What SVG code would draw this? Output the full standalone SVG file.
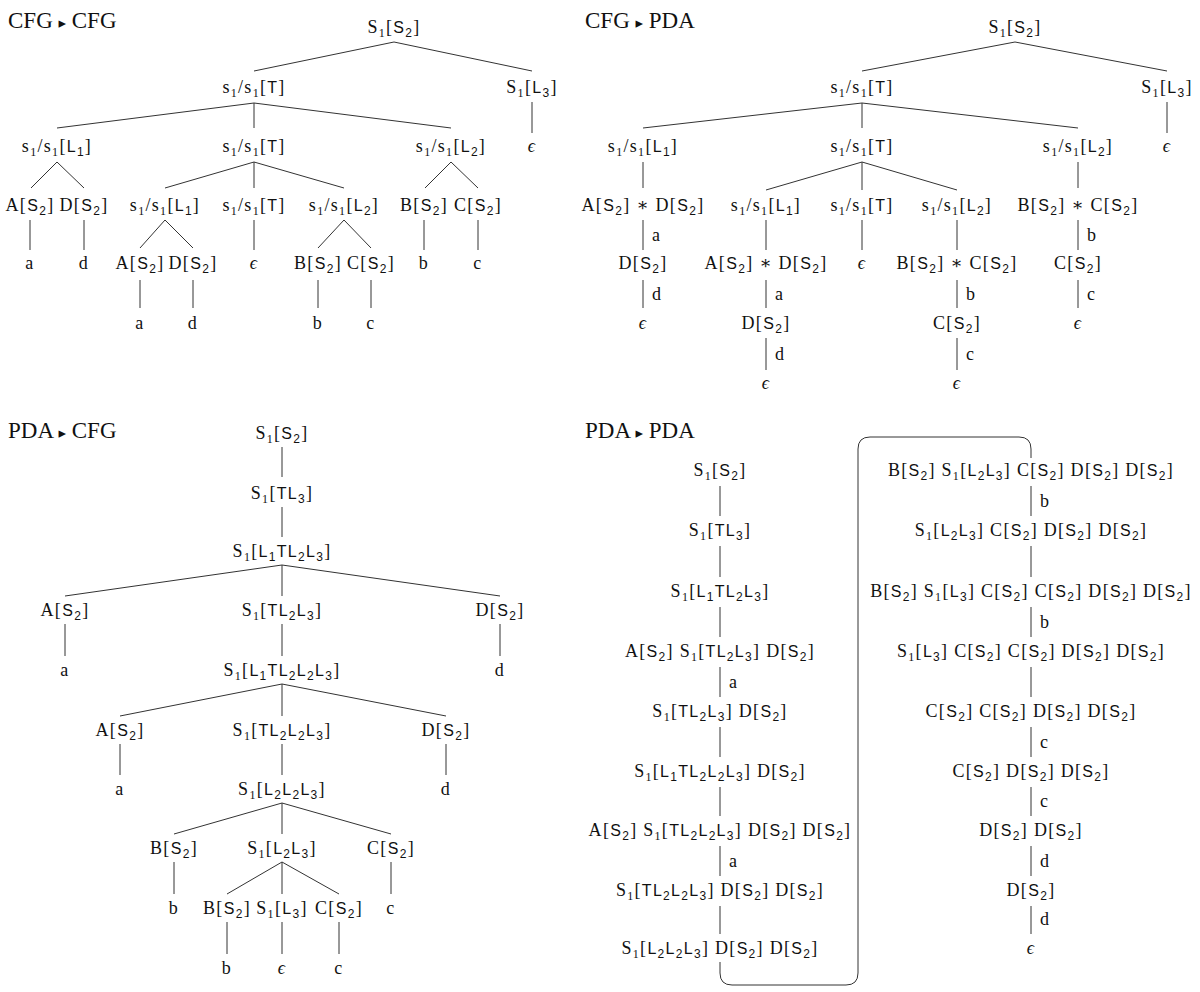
<svg xmlns="http://www.w3.org/2000/svg" width="1200" height="992" viewBox="0 0 1200 992">
<style>
text{font-family:"Liberation Serif","DejaVu Serif",serif;font-size:18px;text-anchor:middle;fill:#111;letter-spacing:1.3px}
.f{font-family:"Liberation Sans","DejaVu Sans",sans-serif;font-size:16px}
.u{font-size:12px;baseline-shift:-4px}
.h{font-size:23px;text-anchor:start;letter-spacing:0}
.h tspan{font-size:15px;font-family:"DejaVu Sans",sans-serif}
.l{text-anchor:start}
.e{font-style:italic}
#edges line,#edges path{stroke:#333;stroke-width:1;fill:none}
</style>
<rect width="1200" height="992" fill="#fff"/>
<text class="h" x="8" y="28">CFG <tspan>▸</tspan> CFG</text>
<text class="h" x="585" y="28">CFG <tspan>▸</tspan> PDA</text>
<text class="h" x="8" y="438">PDA <tspan>▸</tspan> CFG</text>
<text class="h" x="585" y="438">PDA <tspan>▸</tspan> PDA</text>
<g id="edges">
<line x1="394" y1="42" x2="254" y2="71"/><line x1="394" y1="42" x2="532" y2="71"/>
<line x1="532" y1="102" x2="532" y2="133"/>
<line x1="254" y1="103" x2="57" y2="128"/><line x1="254" y1="103" x2="254" y2="128"/><line x1="254" y1="103" x2="451" y2="128"/>
<line x1="57" y1="162" x2="31" y2="188"/><line x1="57" y1="162" x2="84" y2="188"/>
<line x1="254" y1="162" x2="165" y2="188"/><line x1="254" y1="162" x2="254" y2="188"/><line x1="254" y1="162" x2="344" y2="188"/>
<line x1="451" y1="162" x2="425" y2="188"/><line x1="451" y1="162" x2="478" y2="188"/>
<line x1="30" y1="220" x2="30" y2="250"/><line x1="84" y1="220" x2="84" y2="250"/><line x1="254" y1="220" x2="254" y2="250"/><line x1="424" y1="220" x2="424" y2="250"/><line x1="478" y1="220" x2="478" y2="250"/>
<line x1="165" y1="220" x2="140" y2="248"/><line x1="165" y1="220" x2="193" y2="248"/><line x1="344" y1="220" x2="318" y2="248"/><line x1="344" y1="220" x2="371" y2="248"/>
<line x1="140" y1="280" x2="140" y2="308"/><line x1="193" y1="280" x2="193" y2="308"/><line x1="318" y1="280" x2="318" y2="308"/><line x1="371" y1="280" x2="371" y2="308"/>
<line x1="1015" y1="42" x2="862" y2="71"/><line x1="1015" y1="42" x2="1167" y2="71"/>
<line x1="1167" y1="102" x2="1167" y2="133"/>
<line x1="862" y1="103" x2="643" y2="128"/><line x1="862" y1="103" x2="862" y2="128"/><line x1="862" y1="103" x2="1078" y2="128"/>
<line x1="643" y1="162" x2="643" y2="188"/><line x1="1078" y1="162" x2="1078" y2="188"/>
<line x1="862" y1="162" x2="766" y2="190"/><line x1="862" y1="162" x2="862" y2="190"/><line x1="862" y1="162" x2="957" y2="190"/>
<line x1="643" y1="220" x2="643" y2="250"/><line x1="766" y1="220" x2="766" y2="250"/><line x1="862" y1="220" x2="862" y2="250"/><line x1="957" y1="220" x2="957" y2="250"/><line x1="1078" y1="220" x2="1078" y2="250"/>
<line x1="643" y1="280" x2="643" y2="308"/><line x1="766" y1="280" x2="766" y2="308"/><line x1="957" y1="280" x2="957" y2="308"/><line x1="1078" y1="280" x2="1078" y2="308"/>
<line x1="766" y1="338" x2="766" y2="370"/><line x1="957" y1="338" x2="957" y2="370"/>
<line x1="282" y1="447" x2="282" y2="477"/><line x1="282" y1="507" x2="282" y2="537"/>
<line x1="282" y1="565" x2="65" y2="596"/><line x1="282" y1="565" x2="282" y2="596"/><line x1="282" y1="565" x2="500" y2="596"/>
<line x1="65" y1="624" x2="65" y2="656"/><line x1="282" y1="624" x2="282" y2="656"/><line x1="500" y1="624" x2="500" y2="656"/>
<line x1="282" y1="684" x2="120" y2="716"/><line x1="282" y1="684" x2="282" y2="716"/><line x1="282" y1="684" x2="446" y2="716"/>
<line x1="120" y1="744" x2="120" y2="775"/><line x1="282" y1="744" x2="282" y2="775"/><line x1="446" y1="744" x2="446" y2="775"/>
<line x1="282" y1="803" x2="174" y2="834"/><line x1="282" y1="803" x2="282" y2="834"/><line x1="282" y1="803" x2="391" y2="834"/>
<line x1="174" y1="862" x2="174" y2="894"/><line x1="391" y1="862" x2="391" y2="894"/>
<line x1="282" y1="862" x2="227" y2="894"/><line x1="282" y1="862" x2="282" y2="894"/><line x1="282" y1="862" x2="339" y2="894"/>
<line x1="227" y1="922" x2="227" y2="954"/><line x1="282" y1="922" x2="282" y2="954"/><line x1="339" y1="922" x2="339" y2="954"/>
<line x1="720" y1="486" x2="720" y2="516"/><line x1="720" y1="546" x2="720" y2="577"/><line x1="720" y1="607" x2="720" y2="637"/><line x1="720" y1="667" x2="720" y2="697"/><line x1="720" y1="727" x2="720" y2="757"/><line x1="720" y1="787" x2="720" y2="816"/><line x1="720" y1="846" x2="720" y2="876"/><line x1="720" y1="906" x2="720" y2="934"/>
<line x1="1031" y1="486" x2="1031" y2="516"/><line x1="1031" y1="546" x2="1031" y2="577"/><line x1="1031" y1="607" x2="1031" y2="637"/><line x1="1031" y1="667" x2="1031" y2="697"/><line x1="1031" y1="727" x2="1031" y2="757"/><line x1="1031" y1="787" x2="1031" y2="816"/><line x1="1031" y1="846" x2="1031" y2="876"/><line x1="1031" y1="906" x2="1031" y2="934"/>
<path d="M720,962 V973 Q720,985 732,985 H846 Q858,985 858,973 V449 Q858,437 870,437 H1019 Q1031,437 1031,449 V458"/>
</g>
<g id="edge-labels">
<text class="l" x="652" y="241">a</text><text class="l" x="1087" y="241">b</text>
<text class="l" x="652" y="300">d</text><text class="l" x="775" y="300">a</text><text class="l" x="966" y="300">b</text><text class="l" x="1087" y="300">c</text>
<text class="l" x="775" y="360">d</text><text class="l" x="966" y="360">c</text>
<text class="l" x="729" y="688">a</text><text class="l" x="729" y="867">a</text>
<text class="l" x="1040" y="507">b</text><text class="l" x="1040" y="628">b</text><text class="l" x="1040" y="748">c</text><text class="l" x="1040" y="807">c</text><text class="l" x="1040" y="867">d</text><text class="l" x="1040" y="925">d</text>
</g>
<g id="cc1"><text x="394" y="33">S<tspan class="u">1</tspan>[<tspan class="f">S<tspan class="u">2</tspan></tspan>]</text></g>
<g id="cc2"><text x="254" y="93">s<tspan class="u">1</tspan>/s<tspan class="u">1</tspan>[<tspan class="f">T</tspan>]</text></g>
<g id="cc3"><text x="532" y="93">S<tspan class="u">1</tspan>[<tspan class="f">L<tspan class="u">3</tspan></tspan>]</text></g>
<g id="cc4"><text x="57" y="152">s<tspan class="u">1</tspan>/s<tspan class="u">1</tspan>[<tspan class="f">L<tspan class="u">1</tspan></tspan>]</text></g>
<g id="cc5"><text x="254" y="152">s<tspan class="u">1</tspan>/s<tspan class="u">1</tspan>[<tspan class="f">T</tspan>]</text></g>
<g id="cc6"><text x="451" y="152">s<tspan class="u">1</tspan>/s<tspan class="u">1</tspan>[<tspan class="f">L<tspan class="u">2</tspan></tspan>]</text></g>
<g id="cc7"><text class="e" x="532" y="152">ϵ</text></g>
<g id="cc8"><text x="30" y="211">A[<tspan class="f">S<tspan class="u">2</tspan></tspan>]</text></g>
<g id="cc9"><text x="84" y="211">D[<tspan class="f">S<tspan class="u">2</tspan></tspan>]</text></g>
<g id="cc10"><text x="165" y="211">s<tspan class="u">1</tspan>/s<tspan class="u">1</tspan>[<tspan class="f">L<tspan class="u">1</tspan></tspan>]</text></g>
<g id="cc11"><text x="254" y="211">s<tspan class="u">1</tspan>/s<tspan class="u">1</tspan>[<tspan class="f">T</tspan>]</text></g>
<g id="cc12"><text x="344" y="211">s<tspan class="u">1</tspan>/s<tspan class="u">1</tspan>[<tspan class="f">L<tspan class="u">2</tspan></tspan>]</text></g>
<g id="cc13"><text x="424" y="211">B[<tspan class="f">S<tspan class="u">2</tspan></tspan>]</text></g>
<g id="cc14"><text x="478" y="211">C[<tspan class="f">S<tspan class="u">2</tspan></tspan>]</text></g>
<g id="cc15"><text x="30" y="269">a</text></g>
<g id="cc16"><text x="84" y="269">d</text></g>
<g id="cc17"><text x="140" y="269">A[<tspan class="f">S<tspan class="u">2</tspan></tspan>]</text></g>
<g id="cc18"><text x="193" y="269">D[<tspan class="f">S<tspan class="u">2</tspan></tspan>]</text></g>
<g id="cc19"><text class="e" x="254" y="269">ϵ</text></g>
<g id="cc20"><text x="318" y="269">B[<tspan class="f">S<tspan class="u">2</tspan></tspan>]</text></g>
<g id="cc21"><text x="371" y="269">C[<tspan class="f">S<tspan class="u">2</tspan></tspan>]</text></g>
<g id="cc22"><text x="424" y="269">b</text></g>
<g id="cc23"><text x="478" y="269">c</text></g>
<g id="cc24"><text x="140" y="329">a</text></g>
<g id="cc25"><text x="193" y="329">d</text></g>
<g id="cc26"><text x="318" y="329">b</text></g>
<g id="cc27"><text x="371" y="329">c</text></g>
<g id="cp1"><text x="1015" y="33">S<tspan class="u">1</tspan>[<tspan class="f">S<tspan class="u">2</tspan></tspan>]</text></g>
<g id="cp2"><text x="862" y="93">s<tspan class="u">1</tspan>/s<tspan class="u">1</tspan>[<tspan class="f">T</tspan>]</text></g>
<g id="cp3"><text x="1167" y="93">S<tspan class="u">1</tspan>[<tspan class="f">L<tspan class="u">3</tspan></tspan>]</text></g>
<g id="cp4"><text x="643" y="152">s<tspan class="u">1</tspan>/s<tspan class="u">1</tspan>[<tspan class="f">L<tspan class="u">1</tspan></tspan>]</text></g>
<g id="cp5"><text x="862" y="152">s<tspan class="u">1</tspan>/s<tspan class="u">1</tspan>[<tspan class="f">T</tspan>]</text></g>
<g id="cp6"><text x="1078" y="152">s<tspan class="u">1</tspan>/s<tspan class="u">1</tspan>[<tspan class="f">L<tspan class="u">2</tspan></tspan>]</text></g>
<g id="cp7"><text class="e" x="1167" y="152">ϵ</text></g>
<g id="cp8"><text x="643" y="211">A[<tspan class="f">S<tspan class="u">2</tspan></tspan>] ∗ D[<tspan class="f">S<tspan class="u">2</tspan></tspan>]</text></g>
<g id="cp9"><text x="766" y="211">s<tspan class="u">1</tspan>/s<tspan class="u">1</tspan>[<tspan class="f">L<tspan class="u">1</tspan></tspan>]</text></g>
<g id="cp10"><text x="862" y="211">s<tspan class="u">1</tspan>/s<tspan class="u">1</tspan>[<tspan class="f">T</tspan>]</text></g>
<g id="cp11"><text x="957" y="211">s<tspan class="u">1</tspan>/s<tspan class="u">1</tspan>[<tspan class="f">L<tspan class="u">2</tspan></tspan>]</text></g>
<g id="cp12"><text x="1078" y="211">B[<tspan class="f">S<tspan class="u">2</tspan></tspan>] ∗ C[<tspan class="f">S<tspan class="u">2</tspan></tspan>]</text></g>
<g id="cp13"><text x="643" y="269">D[<tspan class="f">S<tspan class="u">2</tspan></tspan>]</text></g>
<g id="cp14"><text x="766" y="269">A[<tspan class="f">S<tspan class="u">2</tspan></tspan>] ∗ D[<tspan class="f">S<tspan class="u">2</tspan></tspan>]</text></g>
<g id="cp15"><text class="e" x="862" y="269">ϵ</text></g>
<g id="cp16"><text x="957" y="269">B[<tspan class="f">S<tspan class="u">2</tspan></tspan>] ∗ C[<tspan class="f">S<tspan class="u">2</tspan></tspan>]</text></g>
<g id="cp17"><text x="1078" y="269">C[<tspan class="f">S<tspan class="u">2</tspan></tspan>]</text></g>
<g id="cp18"><text class="e" x="643" y="329">ϵ</text></g>
<g id="cp19"><text x="766" y="329">D[<tspan class="f">S<tspan class="u">2</tspan></tspan>]</text></g>
<g id="cp20"><text x="957" y="329">C[<tspan class="f">S<tspan class="u">2</tspan></tspan>]</text></g>
<g id="cp21"><text class="e" x="1078" y="329">ϵ</text></g>
<g id="cp22"><text class="e" x="766" y="389">ϵ</text></g>
<g id="cp23"><text class="e" x="957" y="389">ϵ</text></g>
<g id="pc1"><text x="282" y="439">S<tspan class="u">1</tspan>[<tspan class="f">S<tspan class="u">2</tspan></tspan>]</text></g>
<g id="pc2"><text x="282" y="499">S<tspan class="u">1</tspan>[<tspan class="f">TL<tspan class="u">3</tspan></tspan>]</text></g>
<g id="pc3"><text x="282" y="557">S<tspan class="u">1</tspan>[<tspan class="f">L<tspan class="u">1</tspan>TL<tspan class="u">2</tspan>L<tspan class="u">3</tspan></tspan>]</text></g>
<g id="pc4"><text x="65" y="616">A[<tspan class="f">S<tspan class="u">2</tspan></tspan>]</text></g>
<g id="pc5"><text x="282" y="616">S<tspan class="u">1</tspan>[<tspan class="f">TL<tspan class="u">2</tspan>L<tspan class="u">3</tspan></tspan>]</text></g>
<g id="pc6"><text x="500" y="616">D[<tspan class="f">S<tspan class="u">2</tspan></tspan>]</text></g>
<g id="pc7"><text x="65" y="676">a</text></g>
<g id="pc8"><text x="282" y="676">S<tspan class="u">1</tspan>[<tspan class="f">L<tspan class="u">1</tspan>TL<tspan class="u">2</tspan>L<tspan class="u">2</tspan>L<tspan class="u">3</tspan></tspan>]</text></g>
<g id="pc9"><text x="500" y="676">d</text></g>
<g id="pc10"><text x="120" y="736">A[<tspan class="f">S<tspan class="u">2</tspan></tspan>]</text></g>
<g id="pc11"><text x="282" y="736">S<tspan class="u">1</tspan>[<tspan class="f">TL<tspan class="u">2</tspan>L<tspan class="u">2</tspan>L<tspan class="u">3</tspan></tspan>]</text></g>
<g id="pc12"><text x="446" y="736">D[<tspan class="f">S<tspan class="u">2</tspan></tspan>]</text></g>
<g id="pc13"><text x="120" y="795">a</text></g>
<g id="pc14"><text x="282" y="795">S<tspan class="u">1</tspan>[<tspan class="f">L<tspan class="u">2</tspan>L<tspan class="u">2</tspan>L<tspan class="u">3</tspan></tspan>]</text></g>
<g id="pc15"><text x="446" y="795">d</text></g>
<g id="pc16"><text x="174" y="854">B[<tspan class="f">S<tspan class="u">2</tspan></tspan>]</text></g>
<g id="pc17"><text x="282" y="854">S<tspan class="u">1</tspan>[<tspan class="f">L<tspan class="u">2</tspan>L<tspan class="u">3</tspan></tspan>]</text></g>
<g id="pc18"><text x="391" y="854">C[<tspan class="f">S<tspan class="u">2</tspan></tspan>]</text></g>
<g id="pc19"><text x="174" y="914">b</text></g>
<g id="pc20"><text x="227" y="914">B[<tspan class="f">S<tspan class="u">2</tspan></tspan>]</text></g>
<g id="pc21"><text x="282" y="914">S<tspan class="u">1</tspan>[<tspan class="f">L<tspan class="u">3</tspan></tspan>]</text></g>
<g id="pc22"><text x="339" y="914">C[<tspan class="f">S<tspan class="u">2</tspan></tspan>]</text></g>
<g id="pc23"><text x="391" y="914">c</text></g>
<g id="pc24"><text x="227" y="974">b</text></g>
<g id="pc25"><text class="e" x="282" y="974">ϵ</text></g>
<g id="pc26"><text x="339" y="974">c</text></g>
<g id="pp1"><text x="720" y="476">S<tspan class="u">1</tspan>[<tspan class="f">S<tspan class="u">2</tspan></tspan>]</text></g>
<g id="pp2"><text x="720" y="536">S<tspan class="u">1</tspan>[<tspan class="f">TL<tspan class="u">3</tspan></tspan>]</text></g>
<g id="pp3"><text x="720" y="597">S<tspan class="u">1</tspan>[<tspan class="f">L<tspan class="u">1</tspan>TL<tspan class="u">2</tspan>L<tspan class="u">3</tspan></tspan>]</text></g>
<g id="pp4"><text x="720" y="657">A[<tspan class="f">S<tspan class="u">2</tspan></tspan>] S<tspan class="u">1</tspan>[<tspan class="f">TL<tspan class="u">2</tspan>L<tspan class="u">3</tspan></tspan>] D[<tspan class="f">S<tspan class="u">2</tspan></tspan>]</text></g>
<g id="pp5"><text x="720" y="717">S<tspan class="u">1</tspan>[<tspan class="f">TL<tspan class="u">2</tspan>L<tspan class="u">3</tspan></tspan>] D[<tspan class="f">S<tspan class="u">2</tspan></tspan>]</text></g>
<g id="pp6"><text x="720" y="777">S<tspan class="u">1</tspan>[<tspan class="f">L<tspan class="u">1</tspan>TL<tspan class="u">2</tspan>L<tspan class="u">2</tspan>L<tspan class="u">3</tspan></tspan>] D[<tspan class="f">S<tspan class="u">2</tspan></tspan>]</text></g>
<g id="pp7"><text x="720" y="836">A[<tspan class="f">S<tspan class="u">2</tspan></tspan>] S<tspan class="u">1</tspan>[<tspan class="f">TL<tspan class="u">2</tspan>L<tspan class="u">2</tspan>L<tspan class="u">3</tspan></tspan>] D[<tspan class="f">S<tspan class="u">2</tspan></tspan>] D[<tspan class="f">S<tspan class="u">2</tspan></tspan>]</text></g>
<g id="pp8"><text x="720" y="896">S<tspan class="u">1</tspan>[<tspan class="f">TL<tspan class="u">2</tspan>L<tspan class="u">2</tspan>L<tspan class="u">3</tspan></tspan>] D[<tspan class="f">S<tspan class="u">2</tspan></tspan>] D[<tspan class="f">S<tspan class="u">2</tspan></tspan>]</text></g>
<g id="pp9"><text x="720" y="954">S<tspan class="u">1</tspan>[<tspan class="f">L<tspan class="u">2</tspan>L<tspan class="u">2</tspan>L<tspan class="u">3</tspan></tspan>] D[<tspan class="f">S<tspan class="u">2</tspan></tspan>] D[<tspan class="f">S<tspan class="u">2</tspan></tspan>]</text></g>
<g id="pp10"><text x="1031" y="476">B[<tspan class="f">S<tspan class="u">2</tspan></tspan>] S<tspan class="u">1</tspan>[<tspan class="f">L<tspan class="u">2</tspan>L<tspan class="u">3</tspan></tspan>] C[<tspan class="f">S<tspan class="u">2</tspan></tspan>] D[<tspan class="f">S<tspan class="u">2</tspan></tspan>] D[<tspan class="f">S<tspan class="u">2</tspan></tspan>]</text></g>
<g id="pp11"><text x="1031" y="536">S<tspan class="u">1</tspan>[<tspan class="f">L<tspan class="u">2</tspan>L<tspan class="u">3</tspan></tspan>] C[<tspan class="f">S<tspan class="u">2</tspan></tspan>] D[<tspan class="f">S<tspan class="u">2</tspan></tspan>] D[<tspan class="f">S<tspan class="u">2</tspan></tspan>]</text></g>
<g id="pp12"><text x="1031" y="597">B[<tspan class="f">S<tspan class="u">2</tspan></tspan>] S<tspan class="u">1</tspan>[<tspan class="f">L<tspan class="u">3</tspan></tspan>] C[<tspan class="f">S<tspan class="u">2</tspan></tspan>] C[<tspan class="f">S<tspan class="u">2</tspan></tspan>] D[<tspan class="f">S<tspan class="u">2</tspan></tspan>] D[<tspan class="f">S<tspan class="u">2</tspan></tspan>]</text></g>
<g id="pp13"><text x="1031" y="657">S<tspan class="u">1</tspan>[<tspan class="f">L<tspan class="u">3</tspan></tspan>] C[<tspan class="f">S<tspan class="u">2</tspan></tspan>] C[<tspan class="f">S<tspan class="u">2</tspan></tspan>] D[<tspan class="f">S<tspan class="u">2</tspan></tspan>] D[<tspan class="f">S<tspan class="u">2</tspan></tspan>]</text></g>
<g id="pp14"><text x="1031" y="717">C[<tspan class="f">S<tspan class="u">2</tspan></tspan>] C[<tspan class="f">S<tspan class="u">2</tspan></tspan>] D[<tspan class="f">S<tspan class="u">2</tspan></tspan>] D[<tspan class="f">S<tspan class="u">2</tspan></tspan>]</text></g>
<g id="pp15"><text x="1031" y="777">C[<tspan class="f">S<tspan class="u">2</tspan></tspan>] D[<tspan class="f">S<tspan class="u">2</tspan></tspan>] D[<tspan class="f">S<tspan class="u">2</tspan></tspan>]</text></g>
<g id="pp16"><text x="1031" y="836">D[<tspan class="f">S<tspan class="u">2</tspan></tspan>] D[<tspan class="f">S<tspan class="u">2</tspan></tspan>]</text></g>
<g id="pp17"><text x="1031" y="896">D[<tspan class="f">S<tspan class="u">2</tspan></tspan>]</text></g>
<g id="pp18"><text class="e" x="1031" y="954">ϵ</text></g>
</svg>
